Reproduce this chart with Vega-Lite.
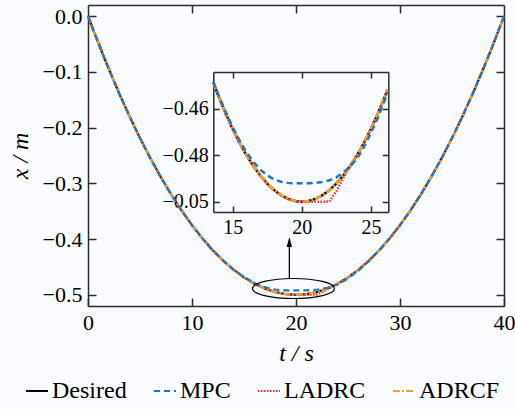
{
  "$schema": "https://vega.github.io/schema/vega-lite/v6.json",
  "width": 416,
  "height": 301,
  "autosize": {"type": "none"},
  "padding": {"left": 88, "top": 5, "right": 11, "bottom": 103},
  "background": "#fafbfe",
  "config": {
    "font": "Liberation Serif",
    "view": {"stroke": null},
    "axis": {"grid": false, "domainColor": "#2b2b2b", "tickColor": "#2b2b2b", "labelColor": "#000", "titleColor": "#000", "labelFont": "Liberation Serif", "titleFont": "Liberation Serif", "titleFontWeight": "normal", "domainWidth": 1.5, "tickWidth": 1.5, "labelFlush": false},
    "legend": {"labelFont": "Liberation Serif", "labelFontSize": 24, "labelColor": "#000", "symbolType": "stroke", "symbolSize": 484, "symbolStrokeWidth": 2, "labelOffset": 3, "columnPadding": 23, "padding": 0, "labelLimit": 300}
  },
  "datasets": {
    "main": [
      {"t":0,"x":0,"s":"Desired"},{"t":1,"x":-0.04875,"s":"Desired"},{"t":2,"x":-0.095,"s":"Desired"},{"t":3,"x":-0.13875,"s":"Desired"},{"t":4,"x":-0.18,"s":"Desired"},{"t":5,"x":-0.21875,"s":"Desired"},{"t":6,"x":-0.255,"s":"Desired"},{"t":7,"x":-0.28875,"s":"Desired"},{"t":8,"x":-0.32,"s":"Desired"},{"t":9,"x":-0.34875,"s":"Desired"},{"t":10,"x":-0.375,"s":"Desired"},{"t":11,"x":-0.39875,"s":"Desired"},{"t":12,"x":-0.42,"s":"Desired"},{"t":13,"x":-0.43875,"s":"Desired"},{"t":14,"x":-0.455,"s":"Desired"},{"t":15,"x":-0.46875,"s":"Desired"},{"t":16,"x":-0.48,"s":"Desired"},{"t":17,"x":-0.48875,"s":"Desired"},{"t":18,"x":-0.495,"s":"Desired"},{"t":19,"x":-0.49875,"s":"Desired"},{"t":20,"x":-0.5,"s":"Desired"},{"t":21,"x":-0.49875,"s":"Desired"},{"t":22,"x":-0.495,"s":"Desired"},{"t":23,"x":-0.48875,"s":"Desired"},{"t":24,"x":-0.48,"s":"Desired"},{"t":25,"x":-0.46875,"s":"Desired"},{"t":26,"x":-0.455,"s":"Desired"},{"t":27,"x":-0.43875,"s":"Desired"},{"t":28,"x":-0.42,"s":"Desired"},{"t":29,"x":-0.39875,"s":"Desired"},{"t":30,"x":-0.375,"s":"Desired"},{"t":31,"x":-0.34875,"s":"Desired"},{"t":32,"x":-0.32,"s":"Desired"},{"t":33,"x":-0.28875,"s":"Desired"},{"t":34,"x":-0.255,"s":"Desired"},{"t":35,"x":-0.21875,"s":"Desired"},{"t":36,"x":-0.18,"s":"Desired"},{"t":37,"x":-0.13875,"s":"Desired"},{"t":38,"x":-0.095,"s":"Desired"},{"t":39,"x":-0.04875,"s":"Desired"},{"t":40,"x":0,"s":"Desired"},
      {"t":0,"x":0,"s":"LADRC"},{"t":1,"x":-0.0455,"s":"LADRC"},{"t":2,"x":-0.093,"s":"LADRC"},{"t":3,"x":-0.1378,"s":"LADRC"},{"t":4,"x":-0.18,"s":"LADRC"},{"t":5,"x":-0.21875,"s":"LADRC"},{"t":6,"x":-0.255,"s":"LADRC"},{"t":7,"x":-0.28875,"s":"LADRC"},{"t":8,"x":-0.32,"s":"LADRC"},{"t":9,"x":-0.34875,"s":"LADRC"},{"t":10,"x":-0.375,"s":"LADRC"},{"t":11,"x":-0.39875,"s":"LADRC"},{"t":12,"x":-0.42,"s":"LADRC"},{"t":13,"x":-0.43875,"s":"LADRC"},{"t":14,"x":-0.455,"s":"LADRC"},{"t":15,"x":-0.46875,"s":"LADRC"},{"t":16,"x":-0.48,"s":"LADRC"},{"t":17,"x":-0.48875,"s":"LADRC"},{"t":18,"x":-0.495,"s":"LADRC"},{"t":19,"x":-0.49875,"s":"LADRC"},{"t":20,"x":-0.5,"s":"LADRC"},{"t":21,"x":-0.5,"s":"LADRC"},{"t":22,"x":-0.4997,"s":"LADRC"},{"t":23,"x":-0.4898,"s":"LADRC"},{"t":24,"x":-0.48,"s":"LADRC"},{"t":25,"x":-0.46875,"s":"LADRC"},{"t":26,"x":-0.455,"s":"LADRC"},{"t":27,"x":-0.43875,"s":"LADRC"},{"t":28,"x":-0.42,"s":"LADRC"},{"t":29,"x":-0.39875,"s":"LADRC"},{"t":30,"x":-0.375,"s":"LADRC"},{"t":31,"x":-0.34875,"s":"LADRC"},{"t":32,"x":-0.32,"s":"LADRC"},{"t":33,"x":-0.28875,"s":"LADRC"},{"t":34,"x":-0.255,"s":"LADRC"},{"t":35,"x":-0.21875,"s":"LADRC"},{"t":36,"x":-0.18,"s":"LADRC"},{"t":37,"x":-0.13875,"s":"LADRC"},{"t":38,"x":-0.095,"s":"LADRC"},{"t":39,"x":-0.04875,"s":"LADRC"},{"t":40,"x":0,"s":"LADRC"},
      {"t":0,"x":0,"s":"ADRCF"},{"t":1,"x":-0.04875,"s":"ADRCF"},{"t":2,"x":-0.095,"s":"ADRCF"},{"t":3,"x":-0.13875,"s":"ADRCF"},{"t":4,"x":-0.18,"s":"ADRCF"},{"t":5,"x":-0.21875,"s":"ADRCF"},{"t":6,"x":-0.255,"s":"ADRCF"},{"t":7,"x":-0.28875,"s":"ADRCF"},{"t":8,"x":-0.32,"s":"ADRCF"},{"t":9,"x":-0.34875,"s":"ADRCF"},{"t":10,"x":-0.375,"s":"ADRCF"},{"t":11,"x":-0.39875,"s":"ADRCF"},{"t":12,"x":-0.42,"s":"ADRCF"},{"t":13,"x":-0.43875,"s":"ADRCF"},{"t":14,"x":-0.455,"s":"ADRCF"},{"t":15,"x":-0.46875,"s":"ADRCF"},{"t":16,"x":-0.48,"s":"ADRCF"},{"t":17,"x":-0.48875,"s":"ADRCF"},{"t":18,"x":-0.495,"s":"ADRCF"},{"t":19,"x":-0.49875,"s":"ADRCF"},{"t":20,"x":-0.5,"s":"ADRCF"},{"t":21,"x":-0.49875,"s":"ADRCF"},{"t":22,"x":-0.495,"s":"ADRCF"},{"t":23,"x":-0.48875,"s":"ADRCF"},{"t":24,"x":-0.48,"s":"ADRCF"},{"t":25,"x":-0.46875,"s":"ADRCF"},{"t":26,"x":-0.455,"s":"ADRCF"},{"t":27,"x":-0.43875,"s":"ADRCF"},{"t":28,"x":-0.42,"s":"ADRCF"},{"t":29,"x":-0.39875,"s":"ADRCF"},{"t":30,"x":-0.375,"s":"ADRCF"},{"t":31,"x":-0.34875,"s":"ADRCF"},{"t":32,"x":-0.32,"s":"ADRCF"},{"t":33,"x":-0.28875,"s":"ADRCF"},{"t":34,"x":-0.255,"s":"ADRCF"},{"t":35,"x":-0.21875,"s":"ADRCF"},{"t":36,"x":-0.18,"s":"ADRCF"},{"t":37,"x":-0.13875,"s":"ADRCF"},{"t":38,"x":-0.095,"s":"ADRCF"},{"t":39,"x":-0.04875,"s":"ADRCF"},{"t":40,"x":0,"s":"ADRCF"},
      {"t":0,"x":0,"s":"MPC"},{"t":1,"x":-0.04875,"s":"MPC"},{"t":2,"x":-0.095,"s":"MPC"},{"t":3,"x":-0.13875,"s":"MPC"},{"t":4,"x":-0.18,"s":"MPC"},{"t":5,"x":-0.21875,"s":"MPC"},{"t":6,"x":-0.255,"s":"MPC"},{"t":7,"x":-0.28875,"s":"MPC"},{"t":8,"x":-0.32,"s":"MPC"},{"t":9,"x":-0.34875,"s":"MPC"},{"t":10,"x":-0.375,"s":"MPC"},{"t":11,"x":-0.39875,"s":"MPC"},{"t":12,"x":-0.42,"s":"MPC"},{"t":13,"x":-0.4386,"s":"MPC"},{"t":14,"x":-0.4546,"s":"MPC"},{"t":15,"x":-0.468,"s":"MPC"},{"t":16,"x":-0.4788,"s":"MPC"},{"t":17,"x":-0.4862,"s":"MPC"},{"t":18,"x":-0.4904,"s":"MPC"},{"t":19,"x":-0.4919,"s":"MPC"},{"t":20,"x":-0.4921,"s":"MPC"},{"t":21,"x":-0.4919,"s":"MPC"},{"t":22,"x":-0.4908,"s":"MPC"},{"t":23,"x":-0.4875,"s":"MPC"},{"t":24,"x":-0.4815,"s":"MPC"},{"t":25,"x":-0.4705,"s":"MPC"},{"t":26,"x":-0.4565,"s":"MPC"},{"t":27,"x":-0.4395,"s":"MPC"},{"t":28,"x":-0.4203,"s":"MPC"},{"t":29,"x":-0.39875,"s":"MPC"},{"t":30,"x":-0.375,"s":"MPC"},{"t":31,"x":-0.34875,"s":"MPC"},{"t":32,"x":-0.32,"s":"MPC"},{"t":33,"x":-0.28875,"s":"MPC"},{"t":34,"x":-0.255,"s":"MPC"},{"t":35,"x":-0.21875,"s":"MPC"},{"t":36,"x":-0.18,"s":"MPC"},{"t":37,"x":-0.13875,"s":"MPC"},{"t":38,"x":-0.095,"s":"MPC"},{"t":39,"x":-0.04875,"s":"MPC"},{"t":40,"x":0,"s":"MPC"}
    ],
    "inset": [
      {"t":13.6,"x":-0.4488,"s":"Desired"},{"t":14,"x":-0.455,"s":"Desired"},{"t":14.5,"x":-0.46219,"s":"Desired"},{"t":15,"x":-0.46875,"s":"Desired"},{"t":15.5,"x":-0.47469,"s":"Desired"},{"t":16,"x":-0.48,"s":"Desired"},{"t":16.5,"x":-0.48469,"s":"Desired"},{"t":17,"x":-0.48875,"s":"Desired"},{"t":17.5,"x":-0.49219,"s":"Desired"},{"t":18,"x":-0.495,"s":"Desired"},{"t":18.5,"x":-0.49719,"s":"Desired"},{"t":19,"x":-0.49875,"s":"Desired"},{"t":19.5,"x":-0.49969,"s":"Desired"},{"t":20,"x":-0.5,"s":"Desired"},{"t":20.5,"x":-0.49969,"s":"Desired"},{"t":21,"x":-0.49875,"s":"Desired"},{"t":21.5,"x":-0.49719,"s":"Desired"},{"t":22,"x":-0.495,"s":"Desired"},{"t":22.5,"x":-0.49219,"s":"Desired"},{"t":23,"x":-0.48875,"s":"Desired"},{"t":23.5,"x":-0.48469,"s":"Desired"},{"t":24,"x":-0.48,"s":"Desired"},{"t":24.5,"x":-0.47469,"s":"Desired"},{"t":25,"x":-0.46875,"s":"Desired"},{"t":25.5,"x":-0.46219,"s":"Desired"},{"t":26,"x":-0.455,"s":"Desired"},{"t":26.2,"x":-0.45195,"s":"Desired"},
      {"t":13.6,"x":-0.4488,"s":"LADRC"},{"t":14,"x":-0.455,"s":"LADRC"},{"t":14.5,"x":-0.46219,"s":"LADRC"},{"t":15,"x":-0.46875,"s":"LADRC"},{"t":15.5,"x":-0.47469,"s":"LADRC"},{"t":16,"x":-0.48,"s":"LADRC"},{"t":16.5,"x":-0.48469,"s":"LADRC"},{"t":17,"x":-0.48875,"s":"LADRC"},{"t":17.5,"x":-0.49219,"s":"LADRC"},{"t":18,"x":-0.495,"s":"LADRC"},{"t":18.5,"x":-0.49719,"s":"LADRC"},{"t":19,"x":-0.49875,"s":"LADRC"},{"t":19.5,"x":-0.49969,"s":"LADRC"},{"t":20,"x":-0.5,"s":"LADRC"},{"t":20.5,"x":-0.5,"s":"LADRC"},{"t":21,"x":-0.5,"s":"LADRC"},{"t":21.5,"x":-0.5,"s":"LADRC"},{"t":22,"x":-0.4999,"s":"LADRC"},{"t":22.5,"x":-0.4955,"s":"LADRC"},{"t":23,"x":-0.4898,"s":"LADRC"},{"t":23.5,"x":-0.4847,"s":"LADRC"},{"t":24,"x":-0.48,"s":"LADRC"},{"t":24.5,"x":-0.47469,"s":"LADRC"},{"t":25,"x":-0.46875,"s":"LADRC"},{"t":25.5,"x":-0.46219,"s":"LADRC"},{"t":26,"x":-0.455,"s":"LADRC"},{"t":26.2,"x":-0.45195,"s":"LADRC"},
      {"t":13.6,"x":-0.4488,"s":"ADRCF"},{"t":14,"x":-0.455,"s":"ADRCF"},{"t":14.5,"x":-0.46219,"s":"ADRCF"},{"t":15,"x":-0.46875,"s":"ADRCF"},{"t":15.5,"x":-0.47469,"s":"ADRCF"},{"t":16,"x":-0.48,"s":"ADRCF"},{"t":16.5,"x":-0.48469,"s":"ADRCF"},{"t":17,"x":-0.48875,"s":"ADRCF"},{"t":17.5,"x":-0.49219,"s":"ADRCF"},{"t":18,"x":-0.495,"s":"ADRCF"},{"t":18.5,"x":-0.49719,"s":"ADRCF"},{"t":19,"x":-0.49875,"s":"ADRCF"},{"t":19.5,"x":-0.49969,"s":"ADRCF"},{"t":20,"x":-0.5,"s":"ADRCF"},{"t":20.5,"x":-0.49969,"s":"ADRCF"},{"t":21,"x":-0.49875,"s":"ADRCF"},{"t":21.5,"x":-0.49719,"s":"ADRCF"},{"t":22,"x":-0.495,"s":"ADRCF"},{"t":22.5,"x":-0.49219,"s":"ADRCF"},{"t":23,"x":-0.48875,"s":"ADRCF"},{"t":23.5,"x":-0.48469,"s":"ADRCF"},{"t":24,"x":-0.48,"s":"ADRCF"},{"t":24.5,"x":-0.47469,"s":"ADRCF"},{"t":25,"x":-0.46875,"s":"ADRCF"},{"t":25.5,"x":-0.46219,"s":"ADRCF"},{"t":26,"x":-0.455,"s":"ADRCF"},{"t":26.2,"x":-0.45195,"s":"ADRCF"},
      {"t":13.6,"x":-0.4486,"s":"MPC"},{"t":14,"x":-0.4546,"s":"MPC"},{"t":14.5,"x":-0.4615,"s":"MPC"},{"t":15,"x":-0.468,"s":"MPC"},{"t":15.5,"x":-0.4737,"s":"MPC"},{"t":16,"x":-0.4788,"s":"MPC"},{"t":16.5,"x":-0.4829,"s":"MPC"},{"t":17,"x":-0.4862,"s":"MPC"},{"t":17.5,"x":-0.4887,"s":"MPC"},{"t":18,"x":-0.4904,"s":"MPC"},{"t":18.5,"x":-0.4914,"s":"MPC"},{"t":19,"x":-0.4919,"s":"MPC"},{"t":19.5,"x":-0.4921,"s":"MPC"},{"t":20,"x":-0.4921,"s":"MPC"},{"t":20.5,"x":-0.4921,"s":"MPC"},{"t":21,"x":-0.4919,"s":"MPC"},{"t":21.5,"x":-0.4915,"s":"MPC"},{"t":22,"x":-0.4908,"s":"MPC"},{"t":22.5,"x":-0.4895,"s":"MPC"},{"t":23,"x":-0.4875,"s":"MPC"},{"t":23.5,"x":-0.4848,"s":"MPC"},{"t":24,"x":-0.4815,"s":"MPC"},{"t":24.5,"x":-0.4765,"s":"MPC"},{"t":25,"x":-0.4705,"s":"MPC"},{"t":25.5,"x":-0.464,"s":"MPC"},{"t":26,"x":-0.4565,"s":"MPC"},{"t":26.2,"x":-0.453,"s":"MPC"}
    ],
    "ellipse": [{"t": 19.76, "x": -0.4886}],
    "arrow": [{"t": 19.36, "y1": -0.4716, "y2": -0.4052}]
  },
  "layer": [
    {
      "layer": [
        {
          "data": {"name": "main"},
          "mark": {"type": "line", "strokeWidth": 2.2},
          "encoding": {
            "x": {"field": "t", "type": "quantitative", "scale": {"domain": [0, 40], "nice": false, "zero": false},
                  "axis": {"orient": "bottom", "values": [0, 10, 20, 30, 40], "format": "d", "labelFont": "Liberation Serif", "labelFontSize": 22, "tickSize": -8, "labelPadding": 14, "title": "t / s", "titleFont": "Liberation Serif", "titleFontStyle": "italic", "titleFontSize": 24, "titlePadding": 8}},
            "y": {"field": "x", "type": "quantitative", "scale": {"domain": [-0.52, 0.02], "nice": false, "zero": false},
                  "axis": {"orient": "left", "values": [0, -0.1, -0.2, -0.3, -0.4, -0.5], "format": ".1f", "labelFont": "Liberation Serif", "labelFontSize": 22, "tickSize": -8, "labelPadding": 14, "title": "x / m", "titleFont": "Liberation Serif", "titleFontStyle": "italic", "titleFontSize": 24, "titlePadding": 10}},
            "color": {"field": "s", "type": "nominal", "scale": {"domain": ["Desired", "MPC", "LADRC", "ADRCF"], "range": ["#000000", "#1f77c9", "#ff2b2b", "#f2a52c"]},
                      "legend": {"title": null, "orient": "none", "legendX": -63, "legendY": 374, "direction": "horizontal"}},
            "strokeDash": {"field": "s", "type": "nominal", "scale": {"domain": ["Desired", "MPC", "LADRC", "ADRCF"], "range": [[1, 0], [6, 4], [1.5, 1.5], [7, 2, 2, 2]]},
                      "legend": {"title": null, "orient": "none", "legendX": -63, "legendY": 374, "direction": "horizontal"}}
          }
        },
        {
          "data": {"name": "ellipse"},
          "mark": {"type": "point", "shape": "M-1,0A1,0.244 0 1,1 1,0A1,0.244 0 1,1 -1,0Z", "size": 6724, "filled": false, "stroke": "#000", "strokeWidth": 1.2, "opacity": 1},
          "encoding": {
            "x": {"field": "t", "type": "quantitative", "axis": {"orient": "top", "values": [10, 20, 30], "labels": false, "tickSize": -8, "title": null}},
            "y": {"field": "x", "type": "quantitative", "axis": {"orient": "right", "values": [0, -0.1, -0.2, -0.3, -0.4, -0.5], "labels": false, "tickSize": -8, "title": null}}
          }
        },
        {
          "data": {"name": "arrow"},
          "mark": {"type": "rule", "color": "#000", "strokeWidth": 1.3},
          "encoding": {
            "x": {"field": "t", "type": "quantitative", "axis": null},
            "y": {"field": "y1", "type": "quantitative", "axis": null},
            "y2": {"field": "y2"}
          }
        },
        {
          "data": {"name": "arrow"},
          "mark": {"type": "point", "shape": "M0,-1L0.55,1L-0.55,1Z", "size": 100, "filled": true, "color": "#000", "opacity": 1},
          "encoding": {
            "x": {"field": "t", "type": "quantitative", "axis": null},
            "y": {"field": "y2", "type": "quantitative", "axis": null}
          }
        }
      ],
      "resolve": {"axis": {"x": "independent", "y": "independent"}}
    },
    {
      "layer": [
        {
          "data": {"name": "inset"},
          "mark": {"type": "line", "strokeWidth": 2.5},
          "encoding": {
            "x": {"field": "t", "type": "quantitative", "scale": {"domain": [13.6, 26.26], "range": [125.3, 300.3], "nice": false, "zero": false},
                  "axis": {"orient": "bottom", "offset": -94, "values": [15, 20, 25], "format": "d", "labelFont": "Liberation Serif", "labelFontSize": 20, "tickSize": -6, "labelPadding": 11, "title": null}},
            "y": {"field": "x", "type": "quantitative", "scale": {"domain": [-0.5044, -0.4443], "range": [207, 67], "nice": false, "zero": false},
                  "axis": {"orient": "left", "offset": -125.3, "values": [-0.46, -0.48, -0.5], "labelExpr": "datum.value < -0.495 ? '−0.05' : format(datum.value, '.2f')", "labelFont": "Liberation Serif", "labelFontSize": 20, "tickSize": -6, "labelPadding": 11, "title": null}},
            "color": {"field": "s", "type": "nominal", "scale": {"domain": ["Desired", "MPC", "LADRC", "ADRCF"], "range": ["#000000", "#1f77c9", "#ff2b2b", "#f2a52c"]},
                      "legend": {"title": null, "orient": "none", "legendX": -63, "legendY": 374, "direction": "horizontal"}},
            "strokeDash": {"field": "s", "type": "nominal", "scale": {"domain": ["Desired", "MPC", "LADRC", "ADRCF"], "range": [[1, 0], [6, 4], [1.5, 1.5], [7, 2, 2, 2]]},
                      "legend": {"title": null, "orient": "none", "legendX": -63, "legendY": 374, "direction": "horizontal"}}
          }
        },
        {
          "data": {"name": "inset"},
          "mark": {"type": "line", "opacity": 0},
          "encoding": {
            "x": {"field": "t", "type": "quantitative", "axis": {"orient": "top", "offset": -67, "values": [15, 20, 25], "labels": false, "tickSize": -6, "title": null}},
            "y": {"field": "x", "type": "quantitative", "axis": {"orient": "right", "offset": -115.7, "values": [-0.46, -0.48, -0.5], "labels": false, "tickSize": -6, "title": null}}
          }
        }
      ],
      "resolve": {"axis": {"x": "independent", "y": "independent"}}
    }
  ],
  "resolve": {"scale": {"x": "independent", "y": "independent"}}
}
